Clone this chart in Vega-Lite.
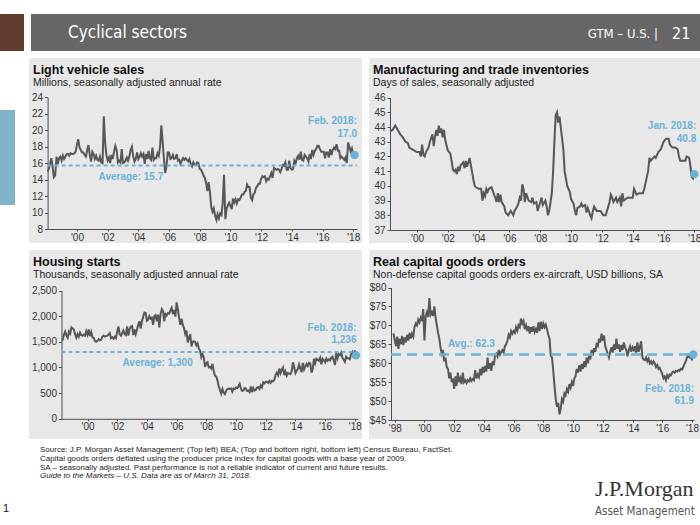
{
"$schema": "https://vega.github.io/schema/vega-lite/v6.json",
"padding": {"left": 0, "top": 14, "right": 0, "bottom": 0},
"background": "white",
"config": {
  "view": {"stroke": null},
  "axis": {"labelFont": "Liberation Sans", "labelFontSize": 10, "labelColor": "#333333", "domainColor": "#4d4d4d", "tickColor": "#4d4d4d", "tickSize": 3, "grid": false, "labelFlush": false, "labelOverlap": false, "labelPadding": 2, "domainWidth": 1},
  "axisX": {"tickSize": 2, "labelPadding": 1},
  "title": {"font": "Liberation Sans", "anchor": "start", "frame": "group"},
  "text": {"font": "Liberation Sans"}
},
"datasets": {
"lvs": [
{"d":"1998-02","v":15.0},{"d":"1998-03","v":15.3},{"d":"1998-04","v":15.9},{"d":"1998-05","v":16.6},{"d":"1998-06","v":15.5},{"d":"1998-07","v":14.3},{"d":"1998-08","v":14.5},{"d":"1998-09","v":16.8},{"d":"1998-10","v":15.9},{"d":"1998-11","v":16.6},{"d":"1998-12","v":16.8},
{"d":"1999-01","v":16.3},{"d":"1999-02","v":16.9},{"d":"1999-03","v":16.5},{"d":"1999-04","v":16.8},{"d":"1999-05","v":17.1},{"d":"1999-06","v":17.1},{"d":"1999-07","v":16.9},{"d":"1999-08","v":17.2},{"d":"1999-09","v":17.1},{"d":"1999-10","v":17.1},{"d":"1999-11","v":17.2},{"d":"1999-12","v":17.4},
{"d":"2000-01","v":18.3},{"d":"2000-02","v":18.9},{"d":"2000-03","v":17.9},{"d":"2000-04","v":17.6},{"d":"2000-05","v":17.3},{"d":"2000-06","v":17.3},{"d":"2000-07","v":17.0},{"d":"2000-08","v":16.8},{"d":"2000-09","v":17.6},{"d":"2000-10","v":18.2},{"d":"2000-11","v":17.0},{"d":"2000-12","v":16.2},
{"d":"2001-01","v":17.4},{"d":"2001-02","v":17.1},{"d":"2001-03","v":16.5},{"d":"2001-04","v":16.9},{"d":"2001-05","v":16.4},{"d":"2001-06","v":16.3},{"d":"2001-07","v":16.8},{"d":"2001-08","v":16.1},{"d":"2001-09","v":16.0},{"d":"2001-10","v":21.7},{"d":"2001-11","v":18.5},{"d":"2001-12","v":17.0},
{"d":"2002-01","v":16.3},{"d":"2002-02","v":16.7},{"d":"2002-03","v":16.0},{"d":"2002-04","v":17.0},{"d":"2002-05","v":16.5},{"d":"2002-06","v":17.4},{"d":"2002-07","v":18.1},{"d":"2002-08","v":17.6},{"d":"2002-09","v":16.1},{"d":"2002-10","v":16.3},{"d":"2002-11","v":16.1},{"d":"2002-12","v":17.7},
{"d":"2003-01","v":16.0},{"d":"2003-02","v":16.1},{"d":"2003-03","v":16.3},{"d":"2003-04","v":16.7},{"d":"2003-05","v":16.3},{"d":"2003-06","v":16.8},{"d":"2003-07","v":17.6},{"d":"2003-08","v":18.0},{"d":"2003-09","v":16.8},{"d":"2003-10","v":16.2},{"d":"2003-11","v":16.5},{"d":"2003-12","v":17.3},
{"d":"2004-01","v":16.5},{"d":"2004-02","v":16.8},{"d":"2004-03","v":17.2},{"d":"2004-04","v":16.8},{"d":"2004-05","v":17.1},{"d":"2004-06","v":15.9},{"d":"2004-07","v":17.1},{"d":"2004-08","v":16.5},{"d":"2004-09","v":17.5},{"d":"2004-10","v":16.6},{"d":"2004-11","v":16.4},{"d":"2004-12","v":17.9},
{"d":"2005-01","v":16.4},{"d":"2005-02","v":16.6},{"d":"2005-03","v":16.6},{"d":"2005-04","v":17.2},{"d":"2005-05","v":16.9},{"d":"2005-06","v":18.0},{"d":"2005-07","v":20.6},{"d":"2005-08","v":18.6},{"d":"2005-09","v":16.5},{"d":"2005-10","v":14.8},{"d":"2005-11","v":15.6},{"d":"2005-12","v":17.3},
{"d":"2006-01","v":17.3},{"d":"2006-02","v":16.5},{"d":"2006-03","v":16.6},{"d":"2006-04","v":17.0},{"d":"2006-05","v":16.5},{"d":"2006-06","v":16.6},{"d":"2006-07","v":17.1},{"d":"2006-08","v":16.3},{"d":"2006-09","v":16.4},{"d":"2006-10","v":15.9},{"d":"2006-11","v":16.3},{"d":"2006-12","v":16.6},
{"d":"2007-01","v":16.4},{"d":"2007-02","v":16.6},{"d":"2007-03","v":16.4},{"d":"2007-04","v":16.2},{"d":"2007-05","v":16.5},{"d":"2007-06","v":15.9},{"d":"2007-07","v":15.6},{"d":"2007-08","v":16.1},{"d":"2007-09","v":15.8},{"d":"2007-10","v":15.8},{"d":"2007-11","v":16.1},{"d":"2007-12","v":16.0},
{"d":"2008-01","v":15.3},{"d":"2008-02","v":15.2},{"d":"2008-03","v":14.9},{"d":"2008-04","v":14.5},{"d":"2008-05","v":14.2},{"d":"2008-06","v":13.6},{"d":"2008-07","v":12.6},{"d":"2008-08","v":13.7},{"d":"2008-09","v":12.4},{"d":"2008-10","v":10.7},{"d":"2008-11","v":10.1},{"d":"2008-12","v":10.5},
{"d":"2009-01","v":9.6},{"d":"2009-02","v":9.1},{"d":"2009-03","v":9.8},{"d":"2009-04","v":9.3},{"d":"2009-05","v":9.9},{"d":"2009-06","v":9.7},{"d":"2009-07","v":11.2},{"d":"2009-08","v":14.6},{"d":"2009-09","v":9.2},{"d":"2009-10","v":10.4},{"d":"2009-11","v":10.9},{"d":"2009-12","v":11.2},
{"d":"2010-01","v":10.8},{"d":"2010-02","v":10.4},{"d":"2010-03","v":11.7},{"d":"2010-04","v":11.2},{"d":"2010-05","v":11.6},{"d":"2010-06","v":11.1},{"d":"2010-07","v":11.6},{"d":"2010-08","v":11.5},{"d":"2010-09","v":11.8},{"d":"2010-10","v":12.2},{"d":"2010-11","v":12.2},{"d":"2010-12","v":12.5},
{"d":"2011-01","v":12.6},{"d":"2011-02","v":13.4},{"d":"2011-03","v":13.1},{"d":"2011-04","v":13.1},{"d":"2011-05","v":11.8},{"d":"2011-06","v":11.5},{"d":"2011-07","v":12.2},{"d":"2011-08","v":12.4},{"d":"2011-09","v":13.0},{"d":"2011-10","v":13.2},{"d":"2011-11","v":13.5},{"d":"2011-12","v":13.5},
{"d":"2012-01","v":14.1},{"d":"2012-02","v":14.4},{"d":"2012-03","v":14.3},{"d":"2012-04","v":14.4},{"d":"2012-05","v":13.8},{"d":"2012-06","v":14.1},{"d":"2012-07","v":14.0},{"d":"2012-08","v":14.4},{"d":"2012-09","v":14.8},{"d":"2012-10","v":14.2},{"d":"2012-11","v":15.4},{"d":"2012-12","v":15.3},
{"d":"2013-01","v":15.2},{"d":"2013-02","v":15.3},{"d":"2013-03","v":15.2},{"d":"2013-04","v":14.9},{"d":"2013-05","v":15.3},{"d":"2013-06","v":15.8},{"d":"2013-07","v":15.7},{"d":"2013-08","v":16.1},{"d":"2013-09","v":15.2},{"d":"2013-10","v":15.2},{"d":"2013-11","v":16.3},{"d":"2013-12","v":15.4},
{"d":"2014-01","v":15.2},{"d":"2014-02","v":15.3},{"d":"2014-03","v":16.3},{"d":"2014-04","v":16.0},{"d":"2014-05","v":16.6},{"d":"2014-06","v":16.9},{"d":"2014-07","v":16.4},{"d":"2014-08","v":17.4},{"d":"2014-09","v":16.4},{"d":"2014-10","v":16.3},{"d":"2014-11","v":17.0},{"d":"2014-12","v":16.8},
{"d":"2015-01","v":16.6},{"d":"2015-02","v":16.2},{"d":"2015-03","v":17.1},{"d":"2015-04","v":16.5},{"d":"2015-05","v":17.6},{"d":"2015-06","v":17.0},{"d":"2015-07","v":17.5},{"d":"2015-08","v":17.7},{"d":"2015-09","v":18.1},{"d":"2015-10","v":18.1},{"d":"2015-11","v":17.7},{"d":"2015-12","v":17.4},
{"d":"2016-01","v":17.4},{"d":"2016-02","v":17.4},{"d":"2016-03","v":16.6},{"d":"2016-04","v":17.3},{"d":"2016-05","v":17.3},{"d":"2016-06","v":16.7},{"d":"2016-07","v":17.7},{"d":"2016-08","v":17.0},{"d":"2016-09","v":17.6},{"d":"2016-10","v":17.9},{"d":"2016-11","v":17.7},{"d":"2016-12","v":18.3},
{"d":"2017-01","v":17.5},{"d":"2017-02","v":17.5},{"d":"2017-03","v":16.6},{"d":"2017-04","v":16.8},{"d":"2017-05","v":16.6},{"d":"2017-06","v":16.4},{"d":"2017-07","v":16.7},{"d":"2017-08","v":16.0},{"d":"2017-09","v":18.5},{"d":"2017-10","v":18.0},{"d":"2017-11","v":17.4},{"d":"2017-12","v":17.8},
{"d":"2018-01","v":17.1},{"d":"2018-02","v":17.0}
],
"inv": [
{"d":"1998-04","v":43.7},{"d":"1998-06","v":43.8},{"d":"1998-08","v":44.1},{"d":"1998-10","v":43.8},{"d":"1998-12","v":43.5},{"d":"1999-02","v":43.3},{"d":"1999-04","v":43.0},{"d":"1999-06","v":42.9},{"d":"1999-07","v":42.6},{"d":"1999-09","v":42.5},{"d":"1999-11","v":42.4},
{"d":"2000-01","v":42.3},{"d":"2000-03","v":42.3},{"d":"2000-04","v":42.0},{"d":"2000-05","v":42.8},{"d":"2000-06","v":42.1},{"d":"2000-07","v":42.0},{"d":"2000-08","v":42.3},{"d":"2000-10","v":42.6},{"d":"2000-11","v":43.0},
{"d":"2001-01","v":43.5},{"d":"2001-02","v":42.7},{"d":"2001-03","v":43.3},{"d":"2001-04","v":43.8},{"d":"2001-05","v":43.4},{"d":"2001-06","v":44.1},{"d":"2001-07","v":43.6},{"d":"2001-08","v":43.9},{"d":"2001-09","v":43.3},{"d":"2001-10","v":43.8},{"d":"2001-11","v":43.1},
{"d":"2002-01","v":42.4},{"d":"2002-03","v":42.2},{"d":"2002-04","v":41.7},{"d":"2002-05","v":41.1},{"d":"2002-06","v":41.0},{"d":"2002-07","v":41.1},{"d":"2002-08","v":40.8},{"d":"2002-09","v":41.3},{"d":"2002-10","v":41.0},{"d":"2002-11","v":41.4},
{"d":"2003-01","v":41.6},{"d":"2003-02","v":41.2},{"d":"2003-03","v":41.7},{"d":"2003-04","v":41.3},{"d":"2003-06","v":41.9},{"d":"2003-07","v":41.4},{"d":"2003-08","v":40.9},{"d":"2003-09","v":40.4},{"d":"2003-10","v":40.0},{"d":"2003-11","v":39.9},
{"d":"2004-01","v":39.8},{"d":"2004-03","v":39.8},{"d":"2004-04","v":39.0},{"d":"2004-05","v":39.5},{"d":"2004-06","v":39.3},{"d":"2004-07","v":39.8},{"d":"2004-08","v":39.6},{"d":"2004-09","v":39.8},{"d":"2004-11","v":39.9},
{"d":"2005-01","v":39.4},{"d":"2005-02","v":39.2},{"d":"2005-03","v":38.9},{"d":"2005-04","v":39.5},{"d":"2005-05","v":38.9},{"d":"2005-06","v":39.4},{"d":"2005-07","v":38.9},{"d":"2005-09","v":38.6},{"d":"2005-10","v":38.2},{"d":"2005-12","v":38.0},
{"d":"2006-02","v":38.3},{"d":"2006-04","v":38.0},{"d":"2006-05","v":38.3},{"d":"2006-07","v":38.6},{"d":"2006-08","v":38.8},{"d":"2006-09","v":39.2},{"d":"2006-10","v":39.0},{"d":"2006-11","v":40.1},{"d":"2006-12","v":39.8},
{"d":"2007-01","v":38.9},{"d":"2007-02","v":39.5},{"d":"2007-04","v":39.0},{"d":"2007-06","v":38.9},{"d":"2007-07","v":39.2},{"d":"2007-08","v":38.8},{"d":"2007-10","v":38.9},{"d":"2007-11","v":38.3},
{"d":"2008-01","v":38.9},{"d":"2008-02","v":39.2},{"d":"2008-03","v":38.7},{"d":"2008-05","v":39.0},{"d":"2008-06","v":38.6},{"d":"2008-07","v":38.0},{"d":"2008-08","v":38.3},{"d":"2008-10","v":39.5},{"d":"2008-11","v":41.0},{"d":"2008-12","v":43.0},
{"d":"2009-01","v":44.8},{"d":"2009-02","v":45.0},{"d":"2009-03","v":44.3},{"d":"2009-04","v":44.7},{"d":"2009-05","v":44.0},{"d":"2009-07","v":42.5},{"d":"2009-08","v":41.0},{"d":"2009-10","v":40.0},{"d":"2009-12","v":39.6},
{"d":"2010-01","v":39.1},{"d":"2010-03","v":38.8},{"d":"2010-04","v":38.3},{"d":"2010-05","v":38.0},{"d":"2010-06","v":38.5},{"d":"2010-08","v":38.6},{"d":"2010-09","v":38.8},{"d":"2010-10","v":38.6},{"d":"2010-12","v":38.7},
{"d":"2011-01","v":38.2},{"d":"2011-02","v":38.5},{"d":"2011-04","v":38.0},{"d":"2011-05","v":37.8},{"d":"2011-06","v":38.3},{"d":"2011-07","v":38.6},{"d":"2011-09","v":38.3},{"d":"2011-12","v":38.3},
{"d":"2012-02","v":38.0},{"d":"2012-04","v":38.0},{"d":"2012-05","v":38.3},{"d":"2012-07","v":38.9},{"d":"2012-08","v":39.4},{"d":"2012-09","v":39.2},{"d":"2012-10","v":38.9},{"d":"2012-12","v":39.2},
{"d":"2013-01","v":38.9},{"d":"2013-03","v":39.2},{"d":"2013-04","v":38.6},{"d":"2013-05","v":39.5},{"d":"2013-06","v":39.0},{"d":"2013-09","v":39.2},{"d":"2013-12","v":39.2},
{"d":"2014-01","v":39.2},{"d":"2014-02","v":39.8},{"d":"2014-04","v":39.4},{"d":"2014-06","v":39.5},{"d":"2014-09","v":39.5},{"d":"2014-10","v":39.8},{"d":"2014-11","v":40.2},
{"d":"2015-01","v":41.0},{"d":"2015-02","v":41.9},{"d":"2015-03","v":41.7},{"d":"2015-06","v":42.0},{"d":"2015-07","v":41.9},{"d":"2015-09","v":42.3},{"d":"2015-11","v":42.5},
{"d":"2016-01","v":43.0},{"d":"2016-03","v":43.2},{"d":"2016-05","v":43.2},{"d":"2016-06","v":42.8},{"d":"2016-08","v":42.6},{"d":"2016-10","v":42.6},{"d":"2016-12","v":42.5},
{"d":"2017-01","v":42.0},{"d":"2017-02","v":41.7},{"d":"2017-06","v":41.7},{"d":"2017-07","v":42.0},{"d":"2017-09","v":41.9},{"d":"2017-10","v":41.3},{"d":"2017-11","v":40.6},{"d":"2017-12","v":40.5},
{"d":"2018-01","v":40.8}
],
"hs": [
{"d":"1998-04","v":1540},{"d":"1998-05","v":1540},{"d":"1998-06","v":1640},{"d":"1998-07","v":1700},{"d":"1998-08","v":1620},{"d":"1998-09","v":1580},{"d":"1998-10","v":1700},{"d":"1998-11","v":1660},{"d":"1998-12","v":1780},
{"d":"1999-01","v":1760},{"d":"1999-02","v":1740},{"d":"1999-03","v":1650},{"d":"1999-04","v":1580},{"d":"1999-05","v":1650},{"d":"1999-06","v":1600},{"d":"1999-07","v":1680},{"d":"1999-08","v":1630},{"d":"1999-09","v":1620},{"d":"1999-10","v":1640},{"d":"1999-11","v":1620},{"d":"1999-12","v":1710},
{"d":"2000-01","v":1640},{"d":"2000-02","v":1740},{"d":"2000-03","v":1610},{"d":"2000-04","v":1690},{"d":"2000-05","v":1590},{"d":"2000-06","v":1580},{"d":"2000-07","v":1520},{"d":"2000-08","v":1500},{"d":"2000-09","v":1520},{"d":"2000-10","v":1550},{"d":"2000-11","v":1530},{"d":"2000-12","v":1540},
{"d":"2001-01","v":1600},{"d":"2001-02","v":1620},{"d":"2001-03","v":1600},{"d":"2001-04","v":1610},{"d":"2001-05","v":1620},{"d":"2001-06","v":1640},{"d":"2001-07","v":1670},{"d":"2001-08","v":1570},{"d":"2001-09","v":1590},{"d":"2001-10","v":1560},{"d":"2001-11","v":1600},{"d":"2001-12","v":1570},
{"d":"2002-01","v":1700},{"d":"2002-02","v":1800},{"d":"2002-03","v":1650},{"d":"2002-04","v":1620},{"d":"2002-05","v":1670},{"d":"2002-06","v":1720},{"d":"2002-07","v":1650},{"d":"2002-08","v":1630},{"d":"2002-09","v":1800},{"d":"2002-10","v":1620},{"d":"2002-11","v":1750},{"d":"2002-12","v":1800},
{"d":"2003-01","v":1810},{"d":"2003-02","v":1630},{"d":"2003-03","v":1740},{"d":"2003-04","v":1650},{"d":"2003-05","v":1740},{"d":"2003-06","v":1830},{"d":"2003-07","v":1900},{"d":"2003-08","v":1760},{"d":"2003-09","v":1900},{"d":"2003-10","v":1990},{"d":"2003-11","v":2070},{"d":"2003-12","v":2060},
{"d":"2004-01","v":1910},{"d":"2004-02","v":1930},{"d":"2004-03","v":2000},{"d":"2004-04","v":1950},{"d":"2004-05","v":1970},{"d":"2004-06","v":1830},{"d":"2004-07","v":2000},{"d":"2004-08","v":2020},{"d":"2004-09","v":1900},{"d":"2004-10","v":2030},{"d":"2004-11","v":1780},{"d":"2004-12","v":2040},
{"d":"2005-01","v":2140},{"d":"2005-02","v":2100},{"d":"2005-03","v":1900},{"d":"2005-04","v":2040},{"d":"2005-05","v":2010},{"d":"2005-06","v":2060},{"d":"2005-07","v":2050},{"d":"2005-08","v":2110},{"d":"2005-09","v":2160},{"d":"2005-10","v":2040},{"d":"2005-11","v":2120},{"d":"2005-12","v":1990},
{"d":"2006-01","v":2270},{"d":"2006-02","v":2130},{"d":"2006-03","v":1970},{"d":"2006-04","v":1830},{"d":"2006-05","v":1950},{"d":"2006-06","v":1830},{"d":"2006-07","v":1770},{"d":"2006-08","v":1650},{"d":"2006-09","v":1720},{"d":"2006-10","v":1490},{"d":"2006-11","v":1570},{"d":"2006-12","v":1650},
{"d":"2007-01","v":1410},{"d":"2007-02","v":1500},{"d":"2007-03","v":1510},{"d":"2007-04","v":1500},{"d":"2007-05","v":1430},{"d":"2007-06","v":1470},{"d":"2007-07","v":1370},{"d":"2007-08","v":1330},{"d":"2007-09","v":1200},{"d":"2007-10","v":1260},{"d":"2007-11","v":1190},{"d":"2007-12","v":1010},
{"d":"2008-01","v":1080},{"d":"2008-02","v":1100},{"d":"2008-03","v":1000},{"d":"2008-04","v":1010},{"d":"2008-05","v":980},{"d":"2008-06","v":1070},{"d":"2008-07","v":930},{"d":"2008-08","v":840},{"d":"2008-09","v":820},{"d":"2008-10","v":750},{"d":"2008-11","v":640},{"d":"2008-12","v":560},
{"d":"2009-01","v":490},{"d":"2009-02","v":580},{"d":"2009-03","v":510},{"d":"2009-04","v":480},{"d":"2009-05","v":540},{"d":"2009-06","v":580},{"d":"2009-07","v":590},{"d":"2009-08","v":580},{"d":"2009-09","v":590},{"d":"2009-10","v":530},{"d":"2009-11","v":590},{"d":"2009-12","v":580},
{"d":"2010-01","v":610},{"d":"2010-02","v":600},{"d":"2010-03","v":630},{"d":"2010-04","v":680},{"d":"2010-05","v":590},{"d":"2010-06","v":540},{"d":"2010-07","v":550},{"d":"2010-08","v":600},{"d":"2010-09","v":590},{"d":"2010-10","v":540},{"d":"2010-11","v":550},{"d":"2010-12","v":520},
{"d":"2011-01","v":630},{"d":"2011-02","v":520},{"d":"2011-03","v":600},{"d":"2011-04","v":550},{"d":"2011-05","v":560},{"d":"2011-06","v":610},{"d":"2011-07","v":620},{"d":"2011-08","v":580},{"d":"2011-09","v":650},{"d":"2011-10","v":610},{"d":"2011-11","v":710},{"d":"2011-12","v":690},
{"d":"2012-01","v":720},{"d":"2012-02","v":720},{"d":"2012-03","v":700},{"d":"2012-04","v":740},{"d":"2012-05","v":700},{"d":"2012-06","v":740},{"d":"2012-07","v":730},{"d":"2012-08","v":760},{"d":"2012-09","v":860},{"d":"2012-10","v":900},{"d":"2012-11","v":850},{"d":"2012-12","v":980},
{"d":"2013-01","v":890},{"d":"2013-02","v":960},{"d":"2013-03","v":1000},{"d":"2013-04","v":850},{"d":"2013-05","v":920},{"d":"2013-06","v":840},{"d":"2013-07","v":890},{"d":"2013-08","v":880},{"d":"2013-09","v":870},{"d":"2013-10","v":930},{"d":"2013-11","v":1100},{"d":"2013-12","v":1010},
{"d":"2014-01","v":890},{"d":"2014-02","v":940},{"d":"2014-03","v":970},{"d":"2014-04","v":1060},{"d":"2014-05","v":980},{"d":"2014-06","v":910},{"d":"2014-07","v":1090},{"d":"2014-08","v":960},{"d":"2014-09","v":1020},{"d":"2014-10","v":1070},{"d":"2014-11","v":1030},{"d":"2014-12","v":1090},
{"d":"2015-01","v":1080},{"d":"2015-02","v":900},{"d":"2015-03","v":960},{"d":"2015-04","v":1170},{"d":"2015-05","v":1080},{"d":"2015-06","v":1170},{"d":"2015-07","v":1150},{"d":"2015-08","v":1130},{"d":"2015-09","v":1190},{"d":"2015-10","v":1060},{"d":"2015-11","v":1170},{"d":"2015-12","v":1140},
{"d":"2016-01","v":1100},{"d":"2016-02","v":1170},{"d":"2016-03","v":1130},{"d":"2016-04","v":1160},{"d":"2016-05","v":1140},{"d":"2016-06","v":1190},{"d":"2016-07","v":1210},{"d":"2016-08","v":1140},{"d":"2016-09","v":1050},{"d":"2016-10","v":1290},{"d":"2016-11","v":1180},{"d":"2016-12","v":1260},
{"d":"2017-01","v":1240},{"d":"2017-02","v":1290},{"d":"2017-03","v":1190},{"d":"2017-04","v":1150},{"d":"2017-05","v":1110},{"d":"2017-06","v":1210},{"d":"2017-07","v":1180},{"d":"2017-08","v":1180},{"d":"2017-09","v":1160},{"d":"2017-10","v":1260},{"d":"2017-11","v":1300},{"d":"2017-12","v":1190},
{"d":"2018-01","v":1330},{"d":"2018-02","v":1236}
],
"cg": [
{"d":"1997-12","v":67.9},
{"d":"1998-01","v":66.0},{"d":"1998-02","v":64.5},{"d":"1998-03","v":67.0},{"d":"1998-04","v":63.8},{"d":"1998-05","v":66.5},{"d":"1998-06","v":65.0},{"d":"1998-07","v":67.2},{"d":"1998-08","v":64.8},{"d":"1998-09","v":66.8},{"d":"1998-10","v":65.5},{"d":"1998-11","v":67.5},{"d":"1998-12","v":66.0},
{"d":"1999-01","v":68.0},{"d":"1999-02","v":66.5},{"d":"1999-03","v":67.8},{"d":"1999-04","v":67.0},{"d":"1999-05","v":69.5},{"d":"1999-06","v":70.5},{"d":"1999-07","v":70.0},{"d":"1999-08","v":71.5},{"d":"1999-09","v":70.8},{"d":"1999-10","v":72.0},{"d":"1999-11","v":71.2},{"d":"1999-12","v":74.3},
{"d":"2000-01","v":66.0},{"d":"2000-02","v":72.5},{"d":"2000-03","v":73.5},{"d":"2000-04","v":72.2},{"d":"2000-05","v":77.2},{"d":"2000-06","v":72.8},{"d":"2000-07","v":73.5},{"d":"2000-08","v":72.5},{"d":"2000-09","v":75.0},{"d":"2000-10","v":72.0},{"d":"2000-11","v":70.0},{"d":"2000-12","v":68.0},
{"d":"2001-01","v":66.5},{"d":"2001-02","v":64.0},{"d":"2001-03","v":62.5},{"d":"2001-04","v":63.5},{"d":"2001-05","v":60.5},{"d":"2001-06","v":61.5},{"d":"2001-07","v":59.0},{"d":"2001-08","v":58.5},{"d":"2001-09","v":56.0},{"d":"2001-10","v":57.5},{"d":"2001-11","v":55.0},{"d":"2001-12","v":56.0},
{"d":"2002-01","v":53.2},{"d":"2002-02","v":56.5},{"d":"2002-03","v":54.0},{"d":"2002-04","v":57.5},{"d":"2002-05","v":55.0},{"d":"2002-06","v":56.0},{"d":"2002-07","v":54.5},{"d":"2002-08","v":57.5},{"d":"2002-09","v":55.0},{"d":"2002-10","v":55.5},{"d":"2002-11","v":54.8},{"d":"2002-12","v":55.6},
{"d":"2003-01","v":55.2},{"d":"2003-02","v":56.0},{"d":"2003-03","v":55.3},{"d":"2003-04","v":55.8},{"d":"2003-05","v":55.5},{"d":"2003-06","v":58.2},{"d":"2003-07","v":56.0},{"d":"2003-08","v":57.0},{"d":"2003-09","v":56.3},{"d":"2003-10","v":58.5},{"d":"2003-11","v":56.8},{"d":"2003-12","v":59.0},
{"d":"2004-01","v":57.5},{"d":"2004-02","v":59.3},{"d":"2004-03","v":57.8},{"d":"2004-04","v":61.5},{"d":"2004-05","v":58.5},{"d":"2004-06","v":60.0},{"d":"2004-07","v":58.0},{"d":"2004-08","v":60.5},{"d":"2004-09","v":59.5},{"d":"2004-10","v":62.0},{"d":"2004-11","v":62.5},{"d":"2004-12","v":61.8},
{"d":"2005-01","v":63.5},{"d":"2005-02","v":62.3},{"d":"2005-03","v":63.0},{"d":"2005-04","v":63.5},{"d":"2005-05","v":62.8},{"d":"2005-06","v":64.5},{"d":"2005-07","v":65.0},{"d":"2005-08","v":66.0},{"d":"2005-09","v":67.5},{"d":"2005-10","v":66.8},{"d":"2005-11","v":68.5},{"d":"2005-12","v":67.8},
{"d":"2006-01","v":68.5},{"d":"2006-02","v":68.0},{"d":"2006-03","v":69.5},{"d":"2006-04","v":68.6},{"d":"2006-05","v":70.0},{"d":"2006-06","v":69.5},{"d":"2006-07","v":71.8},{"d":"2006-08","v":70.5},{"d":"2006-09","v":71.2},{"d":"2006-10","v":69.0},{"d":"2006-11","v":70.0},{"d":"2006-12","v":68.5},
{"d":"2007-01","v":69.8},{"d":"2007-02","v":67.8},{"d":"2007-03","v":69.5},{"d":"2007-04","v":68.3},{"d":"2007-05","v":69.8},{"d":"2007-06","v":68.2},{"d":"2007-07","v":69.0},{"d":"2007-08","v":68.0},{"d":"2007-09","v":70.8},{"d":"2007-10","v":68.5},{"d":"2007-11","v":71.0},{"d":"2007-12","v":69.0},
{"d":"2008-01","v":70.5},{"d":"2008-02","v":69.5},{"d":"2008-03","v":70.2},{"d":"2008-04","v":69.0},{"d":"2008-05","v":67.5},{"d":"2008-06","v":66.5},{"d":"2008-07","v":62.0},{"d":"2008-08","v":61.5},{"d":"2008-09","v":58.0},{"d":"2008-10","v":54.0},{"d":"2008-11","v":50.5},{"d":"2008-12","v":48.5},
{"d":"2009-01","v":49.5},{"d":"2009-02","v":46.5},{"d":"2009-03","v":47.8},{"d":"2009-04","v":50.5},{"d":"2009-05","v":49.8},{"d":"2009-06","v":52.0},{"d":"2009-07","v":51.5},{"d":"2009-08","v":53.2},{"d":"2009-09","v":52.5},{"d":"2009-10","v":54.5},{"d":"2009-11","v":53.5},{"d":"2009-12","v":55.0},
{"d":"2010-01","v":54.0},{"d":"2010-02","v":56.0},{"d":"2010-03","v":56.5},{"d":"2010-04","v":58.5},{"d":"2010-05","v":57.5},{"d":"2010-06","v":59.5},{"d":"2010-07","v":57.8},{"d":"2010-08","v":59.8},{"d":"2010-09","v":58.5},{"d":"2010-10","v":60.5},{"d":"2010-11","v":59.0},{"d":"2010-12","v":61.5},
{"d":"2011-01","v":60.0},{"d":"2011-02","v":62.0},{"d":"2011-03","v":61.0},{"d":"2011-04","v":63.5},{"d":"2011-05","v":62.0},{"d":"2011-06","v":64.0},{"d":"2011-07","v":63.0},{"d":"2011-08","v":65.0},{"d":"2011-09","v":64.5},{"d":"2011-10","v":66.5},{"d":"2011-11","v":65.5},{"d":"2011-12","v":67.8},
{"d":"2012-01","v":66.0},{"d":"2012-02","v":67.3},{"d":"2012-03","v":64.5},{"d":"2012-04","v":63.5},{"d":"2012-05","v":62.5},{"d":"2012-06","v":61.5},{"d":"2012-07","v":63.0},{"d":"2012-08","v":64.2},{"d":"2012-09","v":62.8},{"d":"2012-10","v":65.0},{"d":"2012-11","v":63.5},{"d":"2012-12","v":66.5},
{"d":"2013-01","v":63.8},{"d":"2013-02","v":65.0},{"d":"2013-03","v":63.0},{"d":"2013-04","v":64.8},{"d":"2013-05","v":63.5},{"d":"2013-06","v":65.5},{"d":"2013-07","v":64.2},{"d":"2013-08","v":63.5},{"d":"2013-09","v":61.8},{"d":"2013-10","v":63.5},{"d":"2013-11","v":64.5},{"d":"2013-12","v":63.0},
{"d":"2014-01","v":64.2},{"d":"2014-02","v":63.5},{"d":"2014-03","v":64.5},{"d":"2014-04","v":62.8},{"d":"2014-05","v":65.5},{"d":"2014-06","v":63.0},{"d":"2014-07","v":64.2},{"d":"2014-08","v":65.8},{"d":"2014-09","v":61.5},{"d":"2014-10","v":61.0},{"d":"2014-11","v":60.8},{"d":"2014-12","v":61.5},
{"d":"2015-01","v":60.5},{"d":"2015-02","v":61.2},{"d":"2015-03","v":60.0},{"d":"2015-04","v":60.5},{"d":"2015-05","v":59.8},{"d":"2015-06","v":60.5},{"d":"2015-07","v":60.0},{"d":"2015-08","v":59.0},{"d":"2015-09","v":59.5},{"d":"2015-10","v":58.5},{"d":"2015-11","v":58.8},{"d":"2015-12","v":58.0},
{"d":"2016-01","v":57.2},{"d":"2016-02","v":56.0},{"d":"2016-03","v":56.5},{"d":"2016-04","v":55.5},{"d":"2016-05","v":56.8},{"d":"2016-06","v":56.2},{"d":"2016-07","v":57.0},{"d":"2016-08","v":56.8},{"d":"2016-09","v":57.5},{"d":"2016-10","v":57.8},{"d":"2016-11","v":57.5},{"d":"2016-12","v":58.0},
{"d":"2017-01","v":57.8},{"d":"2017-02","v":58.2},{"d":"2017-03","v":58.0},{"d":"2017-04","v":58.5},{"d":"2017-05","v":58.3},{"d":"2017-06","v":59.0},{"d":"2017-07","v":59.8},{"d":"2017-08","v":60.5},{"d":"2017-09","v":61.5},{"d":"2017-10","v":62.0},{"d":"2017-11","v":61.5},{"d":"2017-12","v":61.5},
{"d":"2018-01","v":61.0},{"d":"2018-02","v":61.9}
]
},
"vconcat": [
  {
    "hconcat": [
      {"width": 24, "height": 37, "view": {"fill": "#5e3b2c", "stroke": null}, "data": {"values": []}, "mark": "rect"},
      {
        "hconcat": [
          {"width": 540, "height": 37, "view": {"fill": "#666666", "stroke": null}, "data": {"values": []}, "mark": "rect",
           "title": {"text": "Cyclical sectors", "anchor": "start", "offset": -28, "dx": 37, "fontSize": 17, "fontWeight": "normal", "font": "Liberation Sans Narrow, DejaVu Sans Condensed, Liberation Sans", "color": "#ffffff"}},
          {"width": 99, "height": 37, "view": {"fill": "#666666", "stroke": null}, "data": {"values": []}, "mark": "rect",
           "title": {"text": "GTM – U.S.    |", "anchor": "end", "offset": -27, "dx": -12, "fontSize": 13, "fontWeight": "normal", "font": "Liberation Sans Narrow, DejaVu Sans Condensed, Liberation Sans", "color": "#ffffff"}},
          {"width": 30, "height": 37, "view": {"fill": "#666666", "stroke": null}, "data": {"values": []}, "mark": "rect",
           "title": {"text": "21", "anchor": "start", "offset": -28, "dx": 2, "fontSize": 16, "fontWeight": "normal", "font": "Liberation Sans Narrow, DejaVu Sans Condensed, Liberation Sans", "color": "#ffffff"}}
        ],
        "spacing": 0
      }
    ],
    "spacing": 7
  },
  {
    "hconcat": [
      {
        "vconcat": [
          {"width": 22, "height": 45, "data": {"values": []}, "mark": "rect"},
          {"width": 15, "height": 95, "view": {"fill": "#7fb4cb", "stroke": null}, "data": {"values": []}, "mark": "rect"}
        ],
        "spacing": 7
      },
      {
        "width": 333, "height": 185,
        "view": {"fill": "#e8e8e8", "stroke": null},
        "title": {"text": "Light vehicle sales", "subtitle": "Millions, seasonally adjusted annual rate", "offset": -30, "dx": 4, "fontSize": 12.5, "fontWeight": "bold", "color": "#111111", "subtitleFontSize": 10.5, "subtitleFont": "Liberation Sans", "subtitleColor": "#222222", "subtitlePadding": 1.5},
        "layer": [
          {"data": {"name": "lvs"}, "mark": {"type": "line", "color": "#575757", "strokeWidth": 2},
           "encoding": {
             "x": {"field": "d", "type": "temporal", "title": null,
                   "scale": {"type": "utc", "domain": [{"year": 1998, "month": 2, "date": 1, "utc": true}, {"year": 2018, "month": 4, "date": 1, "utc": true}], "range": [18.6, 328], "nice": false},
                   "axis": {"orient": "bottom", "offset": -14, "tickCount": {"interval": "year", "step": 2}, "labelExpr": "\"'\" + utcFormat(datum.value, '%y')"}},
             "y": {"field": "v", "type": "quantitative", "title": null,
                   "scale": {"domain": [8, 24], "range": [171, 39.3], "nice": false, "zero": false},
                   "axis": {"orient": "left", "offset": -18.6, "values": [8, 10, 12, 14, 16, 18, 20, 22, 24], "tickCount": 20, "labelExpr": "format(datum.value, 'd')"}}
           }},
          {"data": {"values": [{"s": "1998-02-01", "e": "2018-04-01", "avg": 15.7}]},
           "mark": {"type": "rule", "color": "#6ab2d6", "strokeWidth": 2, "strokeDash": [4, 3]},
           "encoding": {"x": {"field": "s", "type": "temporal", "title": null}, "x2": {"field": "e"}, "y": {"field": "avg", "type": "quantitative", "title": null}}},
          {"data": {"values": [{"d": "2018-02", "v": 17.0}]},
           "mark": {"type": "point", "filled": true, "color": "#6ab2d6", "size": 70, "opacity": 1},
           "encoding": {"x": {"field": "d", "type": "temporal", "title": null}, "y": {"field": "v", "type": "quantitative", "title": null}}},
          {"data": {"values": [{}]},
           "mark": {"type": "text", "align": "center", "baseline": "middle", "fontWeight": "bold", "fontSize": 10, "color": "#6ab2d6"},
           "encoding": {"x": {"datum": {"year": 2003, "month": 7, "date": 8, "utc": true}, "type": "temporal"}, "y": {"datum": 14.3, "type": "quantitative"}, "text": {"value": "Average: 15.7"}}},
          {"data": {"values": [{}]},
           "mark": {"type": "text", "align": "right", "baseline": "top", "fontWeight": "bold", "fontSize": 10, "lineHeight": 12.5, "color": "#6ab2d6"},
           "encoding": {"x": {"datum": {"year": 2018, "month": 4, "date": 1, "utc": true}, "type": "temporal"}, "y": {"datum": 21.7, "type": "quantitative"}, "text": {"value": ["Feb. 2018:", "17.0"]}}}
        ]
      },
      {
        "width": 331, "height": 185,
        "view": {"fill": "#e8e8e8", "stroke": null},
        "title": {"text": "Manufacturing and trade inventories", "subtitle": "Days of sales, seasonally adjusted", "offset": -30, "dx": 4, "fontSize": 12.5, "fontWeight": "bold", "color": "#111111", "subtitleFontSize": 10.5, "subtitleFont": "Liberation Sans", "subtitleColor": "#222222", "subtitlePadding": 1.5},
        "layer": [
          {"data": {"name": "inv"}, "mark": {"type": "line", "color": "#575757", "strokeWidth": 2},
           "encoding": {
             "x": {"field": "d", "type": "temporal", "title": null,
                   "scale": {"type": "utc", "domain": [{"year": 1998, "month": 4, "date": 1, "utc": true}, {"year": 2018, "month": 5, "date": 15, "utc": true}], "range": [21, 331], "nice": false},
                   "axis": {"orient": "bottom", "offset": -13, "tickCount": {"interval": "year", "step": 2}, "labelExpr": "\"'\" + utcFormat(datum.value, '%y')"}},
             "y": {"field": "v", "type": "quantitative", "title": null,
                   "scale": {"domain": [37, 46], "range": [172, 39.6], "nice": false, "zero": false},
                   "axis": {"orient": "left", "offset": -21, "values": [37, 38, 39, 40, 41, 42, 43, 44, 45, 46], "tickCount": 20, "labelExpr": "format(datum.value, 'd')"}}
           }},
          {"data": {"values": [{"d": "2018-01", "v": 40.8}]},
           "mark": {"type": "point", "filled": true, "color": "#6ab2d6", "size": 70, "opacity": 1},
           "encoding": {"x": {"field": "d", "type": "temporal", "title": null}, "y": {"field": "v", "type": "quantitative", "title": null}}},
          {"data": {"values": [{}]},
           "mark": {"type": "text", "align": "right", "baseline": "top", "fontWeight": "bold", "fontSize": 10, "lineHeight": 12.5, "color": "#6ab2d6"},
           "encoding": {"x": {"datum": {"year": 2018, "month": 2, "date": 15, "utc": true}, "type": "temporal"}, "y": {"datum": 44.4, "type": "quantitative"}, "text": {"value": ["Jan. 2018:", "40.8"]}}}
        ]
      }
    ],
    "spacing": 7
  },
  {
    "hconcat": [
      {"width": 22, "height": 40, "data": {"values": []}, "mark": "rect"},
      {
        "width": 333, "height": 189,
        "view": {"fill": "#e8e8e8", "stroke": null},
        "title": {"text": "Housing starts", "subtitle": "Thousands, seasonally adjusted annual rate", "offset": -30, "dx": 4, "fontSize": 12.5, "fontWeight": "bold", "color": "#111111", "subtitleFontSize": 10.5, "subtitleFont": "Liberation Sans", "subtitleColor": "#222222", "subtitlePadding": 1.5},
        "layer": [
          {"data": {"name": "hs"}, "mark": {"type": "line", "color": "#575757", "strokeWidth": 2},
           "encoding": {
             "x": {"field": "d", "type": "temporal", "title": null,
                   "scale": {"type": "utc", "domain": [{"year": 1998, "month": 4, "date": 1, "utc": true}, {"year": 2018, "month": 3, "date": 20, "utc": true}], "range": [32.5, 329], "nice": false},
                   "axis": {"orient": "bottom", "offset": -20.2, "tickCount": {"interval": "year", "step": 2}, "labelExpr": "\"'\" + utcFormat(datum.value, '%y')"}},
             "y": {"field": "v", "type": "quantitative", "title": null,
                   "scale": {"domain": [0, 2500], "range": [168.8, 40.5], "nice": false},
                   "axis": {"orient": "left", "offset": -32.5, "values": [0, 500, 1000, 1500, 2000, 2500], "tickCount": 20, "labelExpr": "format(datum.value, ',')"}}
           }},
          {"data": {"values": [{"s": "1998-04-01", "e": "2018-03-20", "avg": 1300}]},
           "mark": {"type": "rule", "color": "#6ab2d6", "strokeWidth": 2, "strokeDash": [4, 3]},
           "encoding": {"x": {"field": "s", "type": "temporal", "title": null}, "x2": {"field": "e"}, "y": {"field": "avg", "type": "quantitative", "title": null}}},
          {"data": {"values": [{"d": "2018-02", "v": 1236}]},
           "mark": {"type": "point", "filled": true, "color": "#6ab2d6", "size": 70, "opacity": 1},
           "encoding": {"x": {"field": "d", "type": "temporal", "title": null}, "y": {"field": "v", "type": "quantitative", "title": null}}},
          {"data": {"values": [{}]},
           "mark": {"type": "text", "align": "center", "baseline": "middle", "fontWeight": "bold", "fontSize": 10, "color": "#6ab2d6"},
           "encoding": {"x": {"datum": {"year": 2004, "month": 9, "date": 20, "utc": true}, "type": "temporal"}, "y": {"datum": 1087, "type": "quantitative"}, "text": {"value": "Average: 1,300"}}},
          {"data": {"values": [{}]},
           "mark": {"type": "text", "align": "right", "baseline": "top", "fontWeight": "bold", "fontSize": 10, "lineHeight": 11.5, "color": "#6ab2d6"},
           "encoding": {"x": {"datum": {"year": 2018, "month": 2, "date": 10, "utc": true}, "type": "temporal"}, "y": {"datum": 1857, "type": "quantitative"}, "text": {"value": ["Feb. 2018:", "1,236"]}}}
        ]
      },
      {
        "width": 331, "height": 189,
        "view": {"fill": "#e8e8e8", "stroke": null},
        "title": {"text": "Real capital goods orders", "subtitle": "Non-defense capital goods orders ex-aircraft, USD billions, SA", "offset": -30, "dx": 4, "fontSize": 12.5, "fontWeight": "bold", "color": "#111111", "subtitleFontSize": 10.5, "subtitleFont": "Liberation Sans", "subtitleColor": "#222222", "subtitlePadding": 1.5},
        "layer": [
          {"data": {"name": "cg"}, "mark": {"type": "line", "color": "#575757", "strokeWidth": 2},
           "encoding": {
             "x": {"field": "d", "type": "temporal", "title": null,
                   "scale": {"type": "utc", "domain": [{"year": 1997, "month": 10, "date": 1, "utc": true}, {"year": 2018, "month": 2, "date": 20, "utc": true}], "range": [22, 325], "nice": false},
                   "axis": {"orient": "bottom", "offset": -19, "tickCount": {"interval": "year", "step": 2}, "labelExpr": "\"'\" + utcFormat(datum.value, '%y')"}},
             "y": {"field": "v", "type": "quantitative", "title": null,
                   "scale": {"domain": [45, 80], "range": [170, 37.5], "nice": false, "zero": false},
                   "axis": {"orient": "left", "offset": -22, "values": [45, 50, 55, 60, 65, 70, 75, 80], "tickCount": 20, "labelExpr": "'$' + format(datum.value, 'd')"}}
           }},
          {"data": {"values": [{"s": "1997-10-01", "e": "2018-02-01", "avg": 62.3}]},
           "mark": {"type": "rule", "color": "#6ab2d6", "strokeWidth": 2.5, "strokeDash": [10, 6]},
           "encoding": {"x": {"field": "s", "type": "temporal", "title": null}, "x2": {"field": "e"}, "y": {"field": "avg", "type": "quantitative", "title": null}}},
          {"data": {"values": [{"d": "2018-02", "v": 62.3}]},
           "mark": {"type": "point", "filled": true, "color": "#6ab2d6", "size": 70, "opacity": 1},
           "encoding": {"x": {"field": "d", "type": "temporal", "title": null}, "y": {"field": "v", "type": "quantitative", "title": null}}},
          {"data": {"values": [{}]},
           "mark": {"type": "text", "align": "center", "baseline": "middle", "fontWeight": "bold", "fontSize": 10, "color": "#6ab2d6"},
           "encoding": {"x": {"datum": {"year": 2003, "month": 3, "date": 1, "utc": true}, "type": "temporal"}, "y": {"datum": 65.1, "type": "quantitative"}, "text": {"value": "Avg.: 62.3"}}},
          {"data": {"values": [{}]},
           "mark": {"type": "text", "align": "right", "baseline": "top", "fontWeight": "bold", "fontSize": 10, "lineHeight": 12, "color": "#6ab2d6"},
           "encoding": {"x": {"datum": {"year": 2018, "month": 2, "date": 20, "utc": true}, "type": "temporal"}, "y": {"datum": 54.5, "type": "quantitative"}, "text": {"value": ["Feb. 2018:", "61.9"]}}}
        ]
      }
    ],
    "spacing": 7
  },
  {
    "hconcat": [
      {"width": 40, "height": 79, "data": {"values": []}, "mark": "rect",
       "title": {"text": "1", "anchor": "start", "offset": -68, "dx": 3, "fontSize": 11, "fontWeight": "normal", "color": "#111111"}},
      {"width": 548, "height": 79, "data": {"values": []}, "mark": "rect",
       "title": {"text": ["Source: J.P. Morgan Asset Management; (Top left) BEA; (Top and bottom right, bottom left) Census Bureau, FactSet.", "Capital goods orders deflated using the producer price index for capital goods with a base year of 2009.", "SA – seasonally adjusted. Past performance is not a reliable indicator of current and future results."],
                 "subtitle": "Guide to the Markets – U.S. Data are as of March 31, 2018.",
                 "anchor": "start", "offset": -34, "dx": 0, "fontSize": 8, "lineHeight": 8.8, "fontWeight": "normal", "color": "#222222",
                 "subtitleFontSize": 8, "subtitleFont": "Liberation Sans", "subtitleColor": "#222222", "subtitleFontStyle": "italic", "subtitlePadding": 0, "subtitleLineHeight": 8.8}},
      {"width": 112, "height": 79, "data": {"values": []}, "mark": "rect",
       "title": {"text": "J.P.Morgan", "subtitle": "Asset Management", "anchor": "start", "offset": -72, "dx": 7, "fontSize": 22, "font": "Liberation Serif", "fontWeight": "normal", "color": "#333333",
                 "subtitleFontSize": 11.5, "subtitleFont": "Liberation Sans Narrow, DejaVu Sans Condensed, Liberation Sans", "subtitleColor": "#555555", "subtitlePadding": 5}}
    ],
    "spacing": 0
  }
],
"spacing": 7
}
